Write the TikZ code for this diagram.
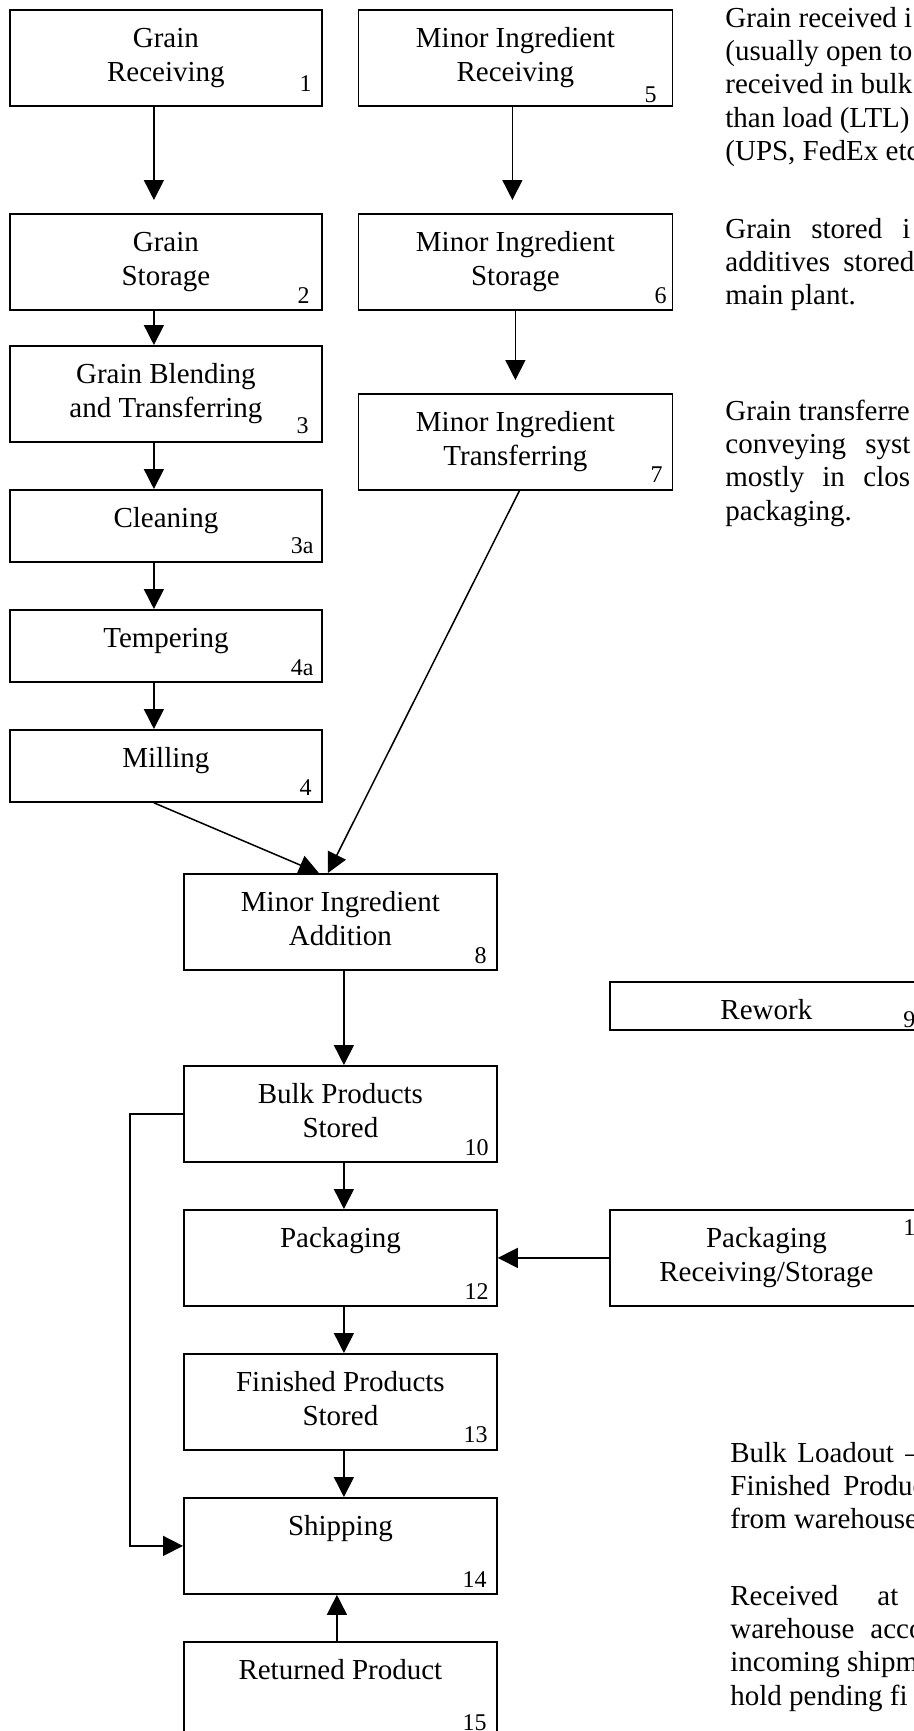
\documentclass[tikz,border=0pt]{standalone}
\usepackage{fontspec}
\setmainfont{Liberation Serif}
\usetikzlibrary{arrows.meta}

% top-aligned, centred box text: first baseline 19pt below the top edge
\newcommand\stagebody[3]{\parbox[c][#2][t]{#1}{\centering\rule{0pt}{19pt}#3}}
% left-aligned paragraph whose reference point is its first baseline
\newcommand\notelines[1]{\parbox[t]{200pt}{\raggedright #1}}
% word set at the start of a box of given width (for spread-out lines)
\newcommand\wordbox[2]{\makebox[#1][l]{#2}}

\tikzset{
  stage/.style={draw, line width=0.9pt, inner sep=0pt, anchor=north west,
    font=\fontsize{14.5}{17}\selectfont},
  tag/.style={inner sep=0pt, font=\fontsize{12}{14}\selectfont},
  note/.style={inner sep=0pt, anchor=base west,
    font=\fontsize{14.5}{16.7}\selectfont},
  flow/.style={line width=0.75pt, -{Triangle[length=10pt,width=10pt]}},
}

\begin{document}
\begin{tikzpicture}[x=0.5pt,y=-0.5pt]
\useasboundingbox (0,0) rectangle (914,1731);
\fill[white] (0,0) rectangle (914,1731);

% grain line
\node[stage] (b1)  at (9,9)   {\stagebody{156pt}{48pt}{Grain\\Receiving}};
\node[stage] (b2)  at (9,213) {\stagebody{156pt}{48pt}{Grain\\Storage}};
\node[stage] (b3)  at (9,345) {\stagebody{156pt}{48pt}{Grain Blending\\and Transferring}};
\node[stage] (b3a) at (9,489) {\stagebody{156pt}{36pt}{Cleaning}};
\node[stage] (b4a) at (9,609) {\stagebody{156pt}{36pt}{Tempering}};
\node[stage] (b4)  at (9,729) {\stagebody{156pt}{36pt}{Milling}};

% minor ingredient line
\node[stage] (b5) at (357.5,9)   {\stagebody{157pt}{48pt}{Minor Ingredient\\Receiving}};
\node[stage] (b6) at (357.5,213) {\stagebody{157pt}{48pt}{Minor Ingredient\\Storage}};
\node[stage] (b7) at (357.5,393) {\stagebody{157pt}{48pt}{Minor Ingredient\\Transferring}};

% main product line
\node[stage] (b8)  at (183,873)  {\stagebody{156.5pt}{48pt}{Minor Ingredient\\Addition}};
\node[stage] (b10) at (183,1065) {\stagebody{156.5pt}{48pt}{Bulk Products\\Stored}};
\node[stage] (b12) at (183,1209) {\stagebody{156.5pt}{48pt}{Packaging}};
\node[stage] (b13) at (183,1353) {\stagebody{156.5pt}{48pt}{Finished Products\\Stored}};
\node[stage] (b14) at (183,1497) {\stagebody{156.5pt}{48pt}{Shipping}};
\node[stage] (b15) at (183,1641) {\stagebody{156.5pt}{48pt}{Returned Product}};

% side boxes
\node[stage] (b9)  at (609,981)  {\stagebody{156.5pt}{24pt}{Rework}};
\node[stage] (b11) at (609,1209) {\stagebody{156.5pt}{48pt}{Packaging\\Receiving/Storage}};

% step numbers
\node[tag, anchor=base east] (n1)  at (312,91)   {1};
\node[tag, anchor=base east] (n2)  at (310,303)  {2};
\node[tag, anchor=base east] (n3)  at (309,433)  {3};
\node[tag, anchor=base east] (n3a) at (314,553)  {3a};
\node[tag, anchor=base east] (n4a) at (314,675)  {4a};
\node[tag, anchor=base east] (n4)  at (312,795)  {4};
\node[tag, anchor=base east] (n5)  at (657,102)  {5};
\node[tag, anchor=base east] (n6)  at (667,303)  {6};
\node[tag, anchor=base east] (n7)  at (663,482)  {7};
\node[tag, anchor=base east] (n8)  at (487,963)  {8};
\node[tag, anchor=base east] (n10) at (489,1155) {10};
\node[tag, anchor=base east] (n12) at (489,1299) {12};
\node[tag, anchor=base east] (n13) at (488,1442) {13};
\node[tag, anchor=base east] (n14) at (487,1587) {14};
\node[tag, anchor=base east] (n15) at (487,1730) {15};
\node[tag, anchor=base west] (n9)  at (903,1027) {9};
\node[tag, anchor=base west] (n11) at (903,1235) {11};

% connectors
\draw[flow, shorten >=6.5pt] ([xshift=-6pt]b1.south) -- ([xshift=-6pt]b2.north);
\draw[flow] ([xshift=-6pt]b2.south)  -- ([xshift=-6pt]b3.north);
\draw[flow] ([xshift=-6pt]b3.south)  -- ([xshift=-6pt]b3a.north);
\draw[flow] ([xshift=-6pt]b3a.south) -- ([xshift=-6pt]b4a.north);
\draw[flow] ([xshift=-6pt]b4a.south) -- ([xshift=-6pt]b4.north);
\draw[flow, shorten >=6.5pt] ([xshift=-1.5pt]b5.south) -- ([xshift=-1.5pt]b6.north);
\draw[flow, shorten >=6.5pt] (b6.south) -- (b7.north);
\draw[flow] ([xshift=-6pt]b4.south) -- ([xshift=-10.75pt]b8.north);
\draw[flow] ([xshift=2pt]b7.south)  -- ([xshift=-6.25pt]b8.north);
\draw[flow] ([xshift=1.75pt]b8.south)  -- ([xshift=1.75pt]b10.north);
\draw[flow] ([xshift=1.75pt]b10.south) -- ([xshift=1.75pt]b12.north);
\draw[flow] ([xshift=1.75pt]b12.south) -- ([xshift=1.75pt]b13.north);
\draw[flow] ([xshift=1.75pt]b13.south) -- ([xshift=1.75pt]b14.north);
\draw[flow] ([xshift=-1.75pt]b15.north) -- ([xshift=-1.75pt]b14.south);
\draw[flow] (b11.west) -- (b12.east);
\draw[flow] (b10.west) -- ++(-53,0) |- (b14.west);

% notes
\node[note] (t1) at (725,27) {\notelines{Grain received i\\
  (usually open to\\
  received in bulk\\
  than load (LTL)\\
  (UPS, FedEx etc}};
\node[note] (t2) at (725,238) {\notelines{\wordbox{43pt}{Grain}\wordbox{45.5pt}{stored}i\\
  \wordbox{59pt}{additives}stored\\
  main plant.}};
\node[note] (t3) at (725,420) {\notelines{Grain transferre\\
  \wordbox{70pt}{conveying}syst\\
  \wordbox{48.5pt}{mostly}\wordbox{20.5pt}{in}clos\\
  packaging.}};
\node[note] (t4) at (730,1462) {\notelines{\wordbox{33.5pt}{Bulk}\wordbox{54pt}{Loadout}–\\
  \wordbox{56.5pt}{Finished}Produc\\
  from warehouse}};
\node[note] (t5) at (730,1605) {\notelines{\wordbox{73.5pt}{Received}at\\
  \wordbox{70pt}{warehouse}acco\\
  incoming shipm\\
  hold pending fi}};
\end{tikzpicture}
\end{document}
